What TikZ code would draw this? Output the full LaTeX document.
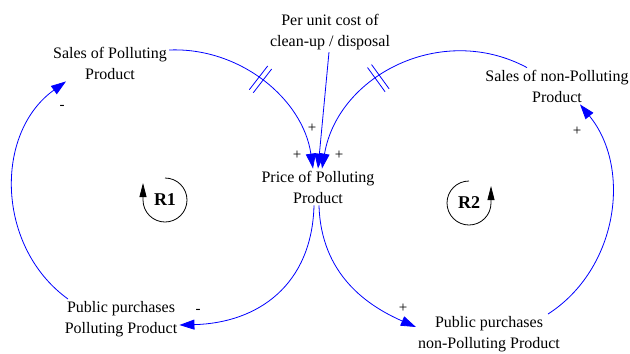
\documentclass[tikz,border=0pt]{standalone}
\usepackage{fontspec}
\setmainfont{Liberation Serif}
\usetikzlibrary{arrows.meta,decorations.markings}

\begin{document}
\begin{tikzpicture}[x=1bp,y=-1bp,
  v/.style={align=center,inner sep=2bp,font=\fontsize{16bp}{21bp}\selectfont},
  a/.style={blue,line width=0.8bp,-{Triangle[length=15bp,width=10bp]}},
  sgn/.style={inner sep=0pt,font=\fontsize{15bp}{15bp}\selectfont},
  lp/.style={black,line width=0.8bp,-{Triangle[length=14bp,width=7bp]}},
  lpt/.style={inner sep=0pt,font=\fontsize{18bp}{18bp}\selectfont\bfseries},
  dly/.style={postaction={decorate,decoration={markings,
    mark=at position #1 with {\draw[blue,line width=0.8bp,-] (-2.5,-15) -- (-2.5,15) (2.5,-15) -- (2.5,15);}}}}]
\useasboundingbox (0,0) rectangle (630,353);
\node[v] (sp) at (110,63) {Sales of Polluting\\Product};
\node[v] (cost) at (330,32) {Per unit cost of\\clean-up / disposal};
\node[v] (snp) at (557,86) {Sales of non-Polluting\\Product};
\node[v] (price) at (318,187) {Price of Polluting\\Product};
\node[v] (pp) at (121,319) {Public purchases\\Polluting Product};
\node[v] (pnp) at (489,334) {Public purchases\\non-Polluting Product};
\draw[a,dly=0.48] ([yshift=13bp]sp.east) .. controls (240,47) and (303,99) .. ([xshift=-5bp]price.north);
\draw[a] ([xshift=-1bp]cost.south) -- (price.north);
\draw[a,dly=0.59] ([xshift=-30bp]snp.north) .. controls (442,22) and (338,75) .. ([xshift=4bp]price.north);
\draw[a] ([xshift=-4bp]price.south) .. controls (312,285) and (258,323) .. ([yshift=-6bp]pp.east);
\draw[a] ([xshift=1bp]price.south) .. controls (321,275) and (368,306) .. ([yshift=7bp]pnp.west);
\draw[a] ([xshift=-53bp]pp.north) .. controls (-4,247) and (-6,133) .. ([xshift=-44bp]sp.south);
\draw[a] ([xshift=59bp]pnp.north) .. controls (618,269) and (632,168) .. ([xshift=23bp]snp.south);
\node[sgn] (m1) at (62,107) {-};
\node[sgn] (m2) at (198,311) {-};
\node[sgn] (p1) at (312,128) {+};
\node[sgn] (p2) at (297,155) {+};
\node[sgn] (p3) at (339,155) {+};
\node[sgn] (p4) at (403,308) {+};
\node[sgn] (p5) at (577,131) {+};
\node[lpt] (r1) at (165,200) {R1};
\draw[lp] (r1.center) ++(0,-22) arc[start angle=-90,end angle=180,radius=22] -- ++(0,-17);
\node[lpt] (r2) at (469,203) {R2};
\draw[lp] (r2.center) ++(0,-22) arc[start angle=-90,end angle=-360,radius=22] -- ++(0,-17);
\end{tikzpicture}
\end{document}
